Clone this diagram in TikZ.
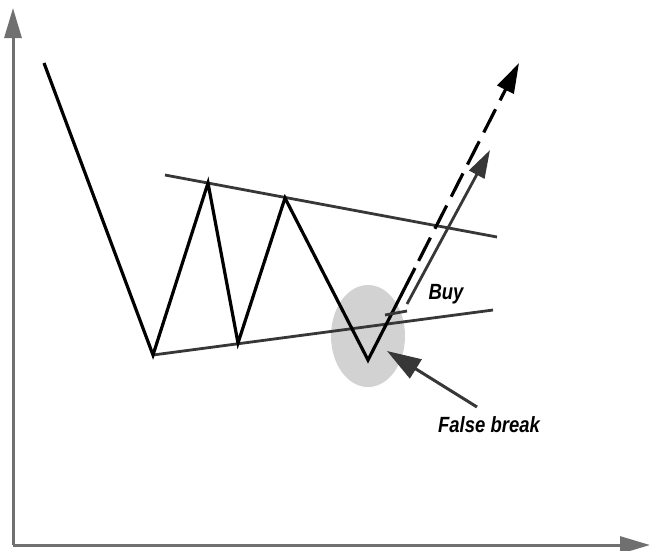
\documentclass[tikz,border=0pt]{standalone}
\usepackage{fontspec}
\setmainfont{Liberation Sans}
\usetikzlibrary{arrows.meta,positioning,calc}
\definecolor{axisgray}{RGB}{112,112,112}
\definecolor{trendgray}{RGB}{55,55,55}
\definecolor{spotgray}{RGB}{210,210,210}

\begin{document}
\begin{tikzpicture}[x=1pt, y=-1pt, line join=miter,
  axisline/.style={axisgray, line width=3, -{Triangle[length=30,width=17]}},
  trendline/.style={trendgray, line width=2.8},
  priceline/.style={black, line width=3.2},
  tag/.style={font=\fontsize{22}{22}\selectfont\bfseries\itshape, xscale=0.84}]
\useasboundingbox (0,0) rectangle (652,550);
% axes
\coordinate (orig) at (13,545);
\coordinate (ytop) at (13,8);
\coordinate (xend) at (650,545);
\draw[axisline] (orig) -- (ytop);
\draw[axisline] (orig) -- (xend);
% false break spot
\fill[spotgray] (368,336) ellipse [x radius=37, y radius=51];
% trend lines
\coordinate (up1) at (165,175);
\coordinate (up2) at (497,237);
\coordinate (lo1) at (153,355);
\coordinate (lo2) at (493,310);
\draw[trendline] (up1) -- (up2);
\draw[trendline] (lo1) -- (lo2);
% price swings
\foreach \n/\px/\py in {0/44/63, 1/153/355, 2/208/183, 3/238/343, 4/285/198, 5/368/360, 6/415/268} {
  \coordinate (p\n) at (\px,\py);
}
\draw[priceline] (p0) -- (p1) -- (p2) -- (p3) -- (p4) -- (p5) -- (p6);
\coordinate (tgt) at (519,63);
\draw[priceline, dash pattern=on 26 off 10, -{Triangle[length=30,width=18]}] ($(p6)!8pt!(tgt)$) -- (tgt);
% buy signal
\coordinate (buy1) at (385,315);
\coordinate (buy2) at (407,311);
\draw[trendline] (buy1) -- (buy2);
\coordinate (gs) at (407,304);
\coordinate (gt) at (490,150);
\draw[trendline, -{Triangle[length=28,width=17]}] (gs) -- (gt);
\node[tag] (buy) at (446,294) {Buy};
% false break label
\node[tag] (fb) at (489,425) {False break};
\coordinate (fbtail) at (477,407);
\coordinate (fbtip) at (387,351);
\draw[trendline, line width=3, -{Triangle[length=34,width=22]}] (fbtail) -- (fbtip);
\end{tikzpicture}
\end{document}
